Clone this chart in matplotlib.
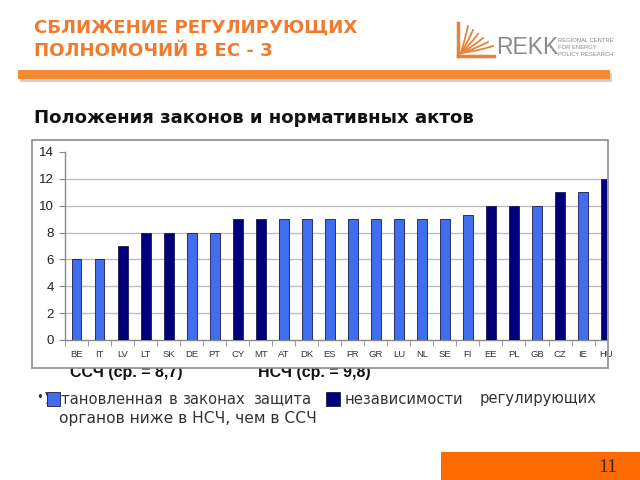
import matplotlib
matplotlib.use("Agg")
import matplotlib.pyplot as plt
from matplotlib.patches import Rectangle
import numpy as np

countries = ["BE", "IT", "LV", "LT", "SK", "DE", "PT", "CY", "MT", "AT", "DK", "ES",
             "FR", "GR", "LU", "NL", "SE", "FI", "EE", "PL", "GB", "CZ", "IE", "HU"]
scores = [6, 6, 7, 8, 8, 8, 8, 9, 9, 9, 9, 9, 9, 9, 9, 9, 9, 9.3, 10, 10, 10, 11, 11, 12]
new_member = ["LV", "LT", "SK", "CY", "MT", "EE", "PL", "CZ", "HU"]
y_ticks = [0, 2, 4, 6, 8, 10, 12, 14]

LIGHT = "#3F6FF0"
DARK = "#00007A"
ORANGE = "#F07A2E"
FS = "Liberation Sans"
FD = "DejaVu Sans"

W, H = 640, 480
fig = plt.figure(figsize=(6.4, 4.8), dpi=100)

def fx(x):
    return np.asarray(x) / W

def fy(y):
    return 1 - np.asarray(y) / H

# Title
fig.text(fx(34), fy(28), "СБЛИЖЕНИЕ РЕГУЛИРУЮЩИХ", family=FD, weight="bold",
         fontsize=13.1, color=ORANGE, va="center", ha="left")
fig.text(fx(34), fy(51), "ПОЛНОМОЧИЙ В ЕС - 3", family=FD, weight="bold",
         fontsize=13.1, color=ORANGE, va="center", ha="left")

# Orange rule with shadow
fig.patches.append(Rectangle((fx(20), fy(82)), fx(592), 9 / H, transform=fig.transFigure,
                             facecolor="#CFCFCF", edgecolor="none", zorder=1))
fig.patches.append(Rectangle((fx(18), fy(79)), fx(592), 9 / H, transform=fig.transFigure,
                             facecolor="#F28A33", edgecolor="none", zorder=2))

# Logo
LC = "#E8823A"
fig.lines.append(plt.Line2D(fx([458, 458]), fy([23, 56]), transform=fig.transFigure,
                            color=LC, lw=2.5))
fig.lines.append(plt.Line2D(fx([458, 494]), fy([56, 56]), transform=fig.transFigure,
                            color=LC, lw=2.5))
for k in range(6):
    t = np.linspace(0, 1, 25)
    x_end = 468 + k * 5
    y_end = 26 + k * 4
    xs = 461 + t * (x_end - 461)
    ys = 53 - t * (53 - y_end) + 3 * t * (1 - t)
    fig.lines.append(plt.Line2D(fx(xs), fy(ys), transform=fig.transFigure,
                                color=LC, lw=1.3))
fig.text(fx(496), fy(47), "REKK", family=FS, fontsize=16.5, color="#8A8A8A",
         va="center", ha="left")
for j, s in enumerate(["REGIONAL CENTRE", "FOR ENERGY", "POLICY RESEARCH"]):
    fig.text(fx(558), fy(41 + j * 6.5), s, family=FS, fontsize=4.2, color="#888888",
             va="center", ha="left")

# Subtitle
fig.text(fx(34), fy(118), "Положения законов и нормативных актов", family=FD, weight="bold",
         fontsize=13.1, color="#111111", va="center", ha="left")

# Axes
ax = fig.add_axes([fx(65), fy(340), fx(607 - 65), (340 - 152) / H])
x = np.arange(len(countries))
colors = [DARK if c in new_member else LIGHT for c in countries]
ax.bar(x, scores, width=0.43, color=colors, edgecolor="#1A1A4A", linewidth=0.6, zorder=3)
ax.set_xlim(-0.5, 23.04)
ax.set_ylim(0, 14)
for v in y_ticks[1:-1]:
    ax.axhline(v, color="#BDBDBD", lw=1.0, zorder=1)
ax.set_yticks(y_ticks)
ax.set_yticklabels([str(v) for v in y_ticks], family=FS, fontsize=9.5, color="#222222")
ax.set_xticks(x)
ax.set_xticklabels(countries, family=FS, fontsize=6.8, color="#333333")
ax.tick_params(axis="x", length=0, pad=7)
ax.set_xticks(np.arange(-0.5, 23.5, 1), minor=True)
ax.tick_params(axis="x", which="minor", length=4, color="#888888", direction="out")
ax.tick_params(axis="y", length=4, color="#888888", direction="out", pad=4)
for s in ["top", "right"]:
    ax.spines[s].set_visible(False)
for s in ["left", "bottom"]:
    ax.spines[s].set_color("#888888")
    ax.spines[s].set_linewidth(1.0)

# Chart frame
fig.patches.append(Rectangle((fx(32), fy(368)), fx(608 - 32), (368 - 140) / H,
                             transform=fig.transFigure, facecolor="none",
                             edgecolor="#8C8C8C", lw=1.2, zorder=5))

# Group labels (partially hidden under frame)
fig.text(fx(70), fy(377.5), "ССЧ (ср. = 8,7)", family=FS, weight="bold", fontsize=11.5,
         color="#111111", va="baseline", ha="left", zorder=2)
fig.text(fx(258), fy(377.5), "НСЧ (ср. = 9,8)", family=FS, weight="bold", fontsize=11.5,
         color="#111111", va="baseline", ha="left", zorder=2)
fig.patches.append(Rectangle((fx(33), fy(368)), fx(574), 9 / H, transform=fig.transFigure,
                             facecolor="white", edgecolor="none", zorder=4))

# Bullet text
TC = "#333333"
BF = 10.6
fig.text(fx(36), fy(398), "•", family=FD, fontsize=8.5, color=TC, va="center", ha="left")
fig.text(fx(163), fy(399), "Установленная", family=FD, fontsize=BF, color=TC,
         va="center", ha="right")
for w, px in [("в", 169), ("законах", 182), ("защита", 253), ("независимости", 345)]:
    fig.text(fx(px), fy(399), w, family=FD, fontsize=BF, color=TC, va="center", ha="left")
fig.text(fx(597), fy(399), "регулирующих", family=FD, fontsize=BF, color=TC,
         va="center", ha="right")
fig.text(fx(59), fy(418), "органов ниже в НСЧ, чем в ССЧ", family=FD, fontsize=11.2,
         color=TC, va="center", ha="left")
fig.patches.append(Rectangle((fx(47), fy(406)), 13 / W, 14 / H, transform=fig.transFigure,
                             facecolor=LIGHT, edgecolor="#1A1A4A", lw=0.6, zorder=6))
fig.patches.append(Rectangle((fx(326), fy(406)), 14 / W, 14 / H, transform=fig.transFigure,
                             facecolor=DARK, edgecolor="#1A1A4A", lw=0.6, zorder=6))

# Footer box
fig.patches.append(Rectangle((fx(441), 0), fx(199), 28 / H, transform=fig.transFigure,
                             facecolor="#FF6A00", edgecolor="none"))
fig.text(fx(598), fy(468), "11", family="Liberation Serif", fontsize=14, color="#3A2A1A",
         va="center", ha="left")

fig.savefig("out.png", dpi=100)
